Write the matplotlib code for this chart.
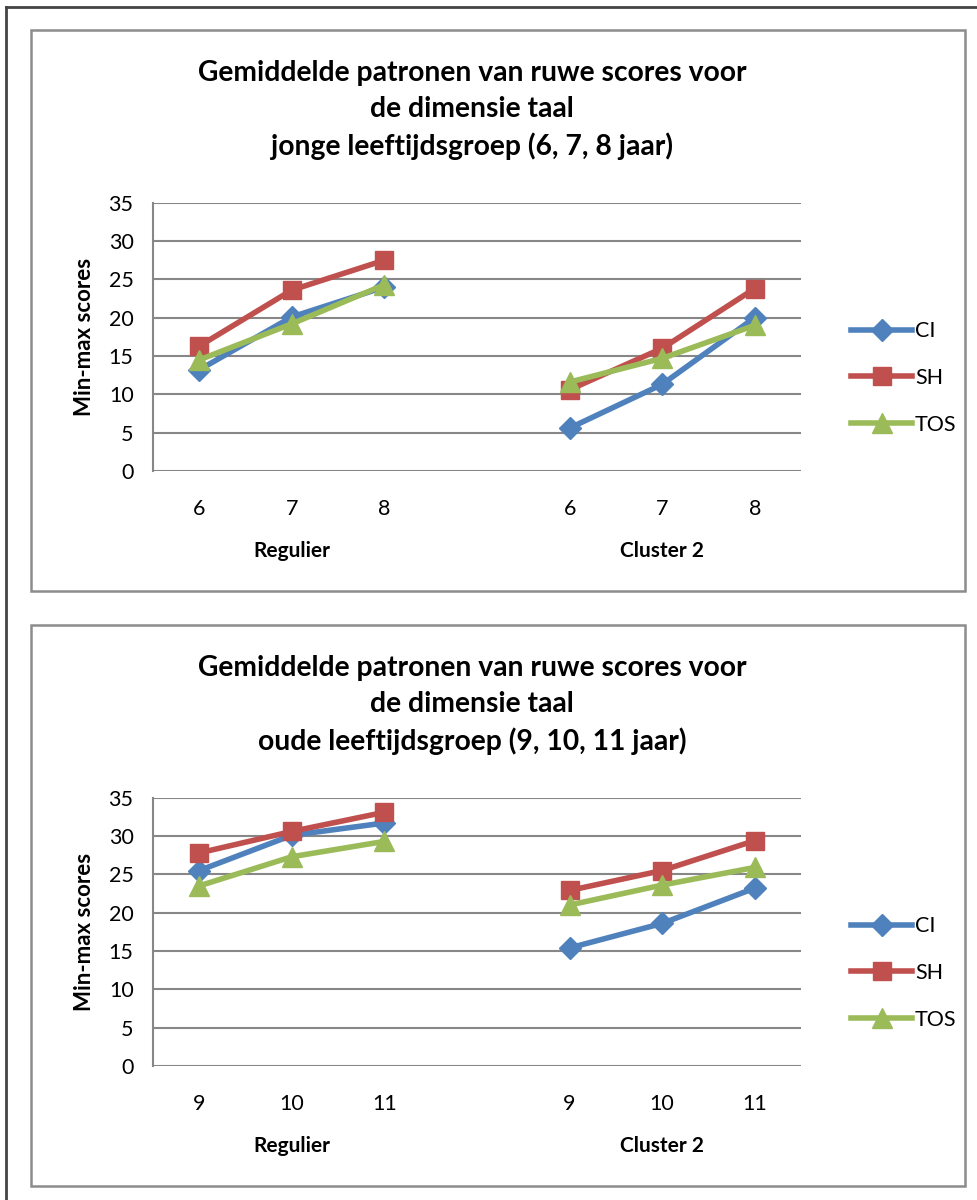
import numpy as np
import matplotlib.pyplot as plt
from matplotlib.patches import Rectangle
from matplotlib.lines import Line2D

plt.rcParams['font.family'] = ['Lato', 'DejaVu Sans']

# categories: two groups of three ages with an empty slot in between
jong_labels = ["6", "7", "8", "", "6", "7", "8"]
oud_labels = ["9", "10", "11", "", "9", "10", "11"]
groepen = ["Regulier", "Cluster 2"]
reeksen = ["CI", "SH", "TOS"]

# jonge leeftijdsgroep (Regulier 6-8, Cluster 2 6-8)
jong_ci = [13.2, 20.1, 24.0, np.nan, 5.6, 11.3, 20.0]
jong_sh = [16.3, 23.6, 27.5, np.nan, 10.6, 16.0, 23.8]
jong_tos = [14.5, 19.2, 24.3, np.nan, 11.6, 14.7, 19.0]

# oude leeftijdsgroep (Regulier 9-11, Cluster 2 9-11)
oud_ci = [25.5, 30.1, 31.7, np.nan, 15.4, 18.6, 23.2]
oud_sh = [27.8, 30.6, 33.1, np.nan, 22.9, 25.5, 29.4]
oud_tos = [23.5, 27.3, 29.3, np.nan, 21.0, 23.6, 25.9]

kleuren = ["#4F81BD", "#C0504D", "#9BBB59"]
markers = ["D", "s", "^"]
msizes = [11, 13, 14]
grid_kleur = "#878787"

W, H = 978, 1200
fig = plt.figure(figsize=(W / 100, H / 100), dpi=100)


def fx(px):
    return px / W


def fy(py):
    return 1 - py / H


# outer page frame (left and top edge only)
fig.add_artist(Line2D([fx(6), fx(6)], [fy(7), 0], color="#444444", lw=2))
fig.add_artist(Line2D([fx(6), 1], [fy(7), fy(7)], color="#444444", lw=2))


def grafiek(top, titel, labels, waarden):
    # chart box
    fig.add_artist(Rectangle((fx(31), fy(top + 561)), fx(965 - 31), (561) / H,
                             fill=False, edgecolor="#8c8c8c", lw=1.8))
    y35 = top + 172.7
    y0 = top + 441
    ax = fig.add_axes([fx(153), fy(y0), fx(801 - 153), (y0 - y35) / H])
    x = np.arange(len(labels))
    lijnen = []
    for vals, kleur, m, ms, naam in zip(waarden, kleuren, markers, msizes, reeksen):
        ln, = ax.plot(x, vals, color=kleur, lw=4, marker=m, ms=ms,
                      markeredgecolor=kleur, label=naam, zorder=3)
        lijnen.append(ln)
    ax.set_xlim(-0.5, len(labels) - 0.5)
    ax.set_ylim(0, 35)
    ax.set_yticks(np.arange(0, 36, 5))
    ax.grid(axis="y", color=grid_kleur, lw=1.5)
    ax.set_axisbelow(True)
    for s in ["top", "right", "bottom"]:
        ax.spines[s].set_visible(False)
    ax.spines["left"].set_color(grid_kleur)
    ax.spines["left"].set_linewidth(1.5)
    ax.set_xticks(x)
    ax.set_xticklabels(labels)
    ax.tick_params(axis="both", length=0, labelsize=15.5, colors="black")
    ax.tick_params(axis="x", pad=20)
    ax.tick_params(axis="y", pad=14)
    ax.set_ylabel("Min-max scores", fontsize=16, fontweight="bold", labelpad=10)
    for i, g in zip([1, 5], groepen):
        ax.text(i, -10.4, g, ha="center", va="center", fontsize=15,
                fontweight="bold", transform=ax.transData)
    fig.text(fx(472), fy(top + 80), titel, ha="center", va="center",
             fontsize=20.3, fontweight="bold", linespacing=1.45)
    fig.legend(handles=lijnen, loc="center left",
               bbox_to_anchor=(fx(832), fy(top + 348)), frameon=False,
               fontsize=15.5, handlelength=2.8, handletextpad=0.15,
               labelspacing=1.25)
    return ax


grafiek(30, "Gemiddelde patronen van ruwe scores voor\nde dimensie taal\n"
            "jonge leeftijdsgroep (6, 7, 8 jaar)",
        jong_labels, [jong_ci, jong_sh, jong_tos])
grafiek(625, "Gemiddelde patronen van ruwe scores voor\nde dimensie taal\n"
             "oude leeftijdsgroep (9, 10, 11 jaar)",
        oud_labels, [oud_ci, oud_sh, oud_tos])

fig.savefig("out.png", dpi=100)
